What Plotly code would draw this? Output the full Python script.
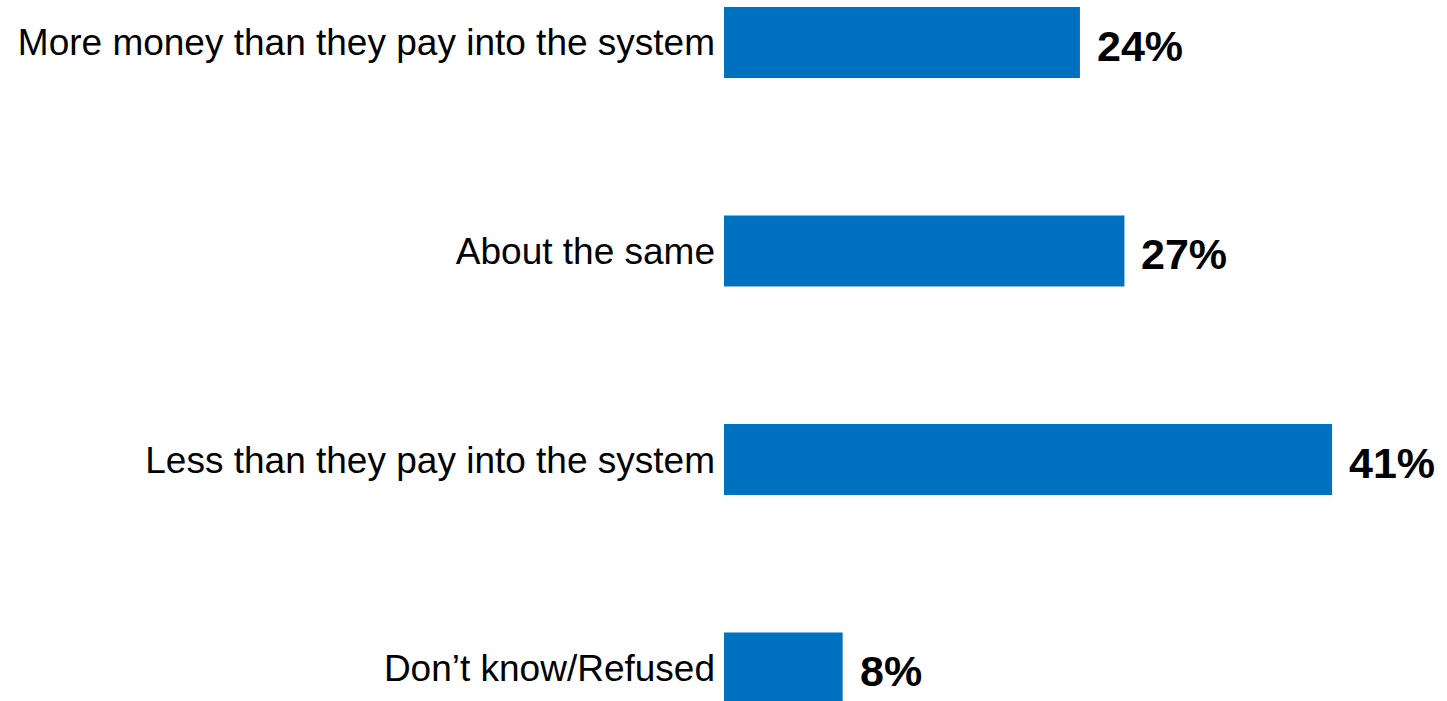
import plotly.graph_objects as go

categories = [
    "More money than they pay into the system",
    "About the same",
    "Less than they pay into the system",
    "Don\u2019t know/Refused",
]
values = [24, 27, 41, 8]
value_labels = ["24%", "27%", "41%", "8%"]

FONT = "Arial, Liberation Sans, sans-serif"

fig = go.Figure(
    go.Bar(
        x=values,
        y=categories,
        orientation="h",
        width=0.34,
        marker=dict(color="#0070C0", line=dict(width=0)),
        hoverinfo="skip",
    )
)

for cat, val, lab in zip(categories, values, value_labels):
    fig.add_annotation(
        x=val, y=cat, text="<b>" + lab + "</b>", showarrow=False,
        xanchor="left", yanchor="middle", xshift=15, yshift=-3,
        font=dict(family=FONT, size=43, color="black"),
    )

fig.update_layout(
    width=1447, height=701,
    margin=dict(l=724, r=0, t=0, b=0),
    paper_bgcolor="white", plot_bgcolor="white",
    showlegend=False,
    font=dict(family=FONT, color="black"),
)

fig.update_xaxes(visible=False, range=[0, 48.75], fixedrange=True)
fig.update_yaxes(
    type="category",
    categoryorder="array", categoryarray=categories,
    range=[3.158, -0.204],
    showgrid=False, zeroline=False, showline=False,
    ticks="", ticklabelstandoff=8,
    tickfont=dict(family=FONT, size=37, color="black"),
    fixedrange=True,
)

fig.write_html(
    "out.html",
    config={"displayModeBar": False},
    post_script="document.body.style.margin='0';document.body.style.overflow='hidden';",
)
